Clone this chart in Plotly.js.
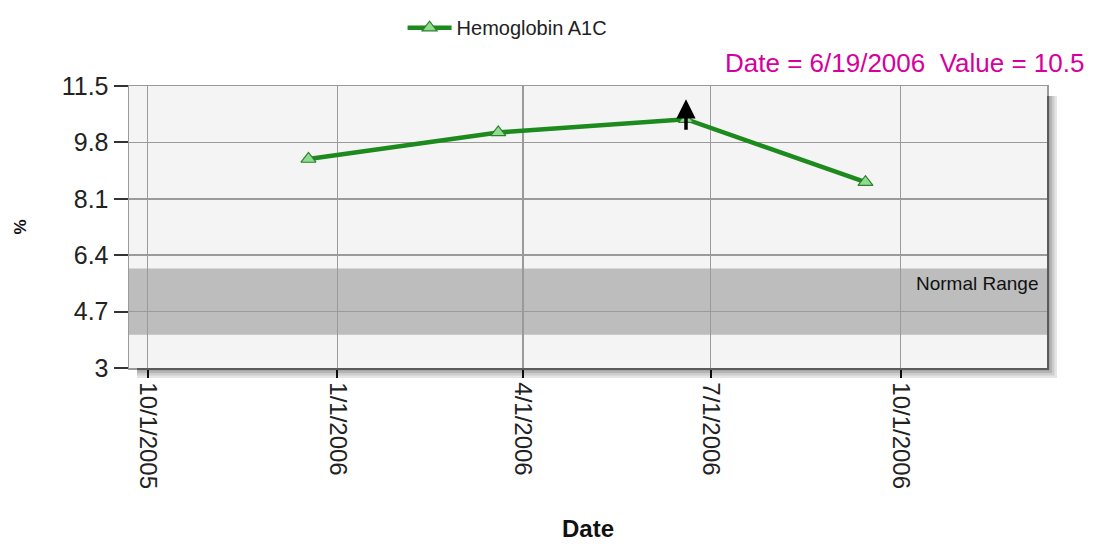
<!DOCTYPE html>
<html>
<head>
<meta charset="utf-8">
<script src="https://cdn.plot.ly/plotly-3.0.1.min.js"></script>
<style>html,body{margin:0;padding:0;background:#fff;}#chart{width:1096px;height:548px;}</style>
</head>
<body>
<div id="chart"></div>
<script>
var dates = ['2005-12-18', '2006-03-20', '2006-06-19', '2006-09-14'];
var values = [9.3, 10.1, 10.5, 8.6];
var seriesName = 'Hemoglobin A1C';
var yTicks = [3, 4.7, 6.4, 8.1, 9.8, 11.5];
var xTickVals = ['2005-10-01', '2006-01-01', '2006-04-01', '2006-07-01', '2006-10-01'];
var xTickText = ['10/1/2005', '1/1/2006', '4/1/2006', '7/1/2006', '10/1/2006'];
var normalLow = 4.0, normalHigh = 6.0;
var selDate = '2006-06-19', selDateText = '6/19/2006', selValue = 10.5;

var FONT = 'Liberation Sans, Arial, sans-serif';

var trace = {
  x: dates, y: values, name: seriesName, type: 'scatter', mode: 'lines+markers',
  line: {color: '#1d8a1d', width: 4.5},
  marker: {symbol: 'triangle-up', size: 13, color: '#8fdc8f', line: {color: '#2f7f2f', width: 1.2}}
};

var shapes = [
  {type: 'rect', xref: 'paper', yref: 'y', x0: 0, x1: 1, y0: normalLow, y1: normalHigh, fillcolor: '#bdbdbd', line: {width: 0}, layer: 'below'}
];
var shadeCols = ['rgba(0,0,0,0.10)', 'rgba(0,0,0,0.10)', 'rgba(0,0,0,0.12)', 'rgba(0,0,0,0.15)'];
for (var i = 0; i < 4; i++) {
  var px = 10 - i * 2.5;
  shapes.push({type: 'rect', xref: 'paper', yref: 'paper', x0: 1, x1: 1 + px / 918, y0: -px / 282, y1: 1 - 10 / 282, fillcolor: shadeCols[i], line: {width: 0}});
  shapes.push({type: 'rect', xref: 'paper', yref: 'paper', x0: 8 / 918, x1: 1, y0: -px / 282, y1: 0, fillcolor: shadeCols[i], line: {width: 0}});
}

var layout = {
  width: 1096, height: 548,
  margin: {l: 129, r: 49, t: 86, b: 180, pad: 0, autoexpand: false},
  paper_bgcolor: '#ffffff', plot_bgcolor: '#f4f4f4',
  font: {family: FONT, color: '#222'},
  showlegend: true,
  legend: {orientation: 'h', x: 0.298, xanchor: 'left', y: 1.276, yanchor: 'top', font: {size: 20, color: '#222'}, itemwidth: 44, bgcolor: 'rgba(0,0,0,0)'},
  xaxis: {
    type: 'date', range: ['2005-09-22', '2006-12-11'], automargin: false,
    tickmode: 'array', tickvals: xTickVals, ticktext: xTickText, tickangle: 90,
    tickfont: {size: 24, color: '#222', family: FONT},
    ticks: 'outside', ticklen: 8, tickcolor: '#111', tickwidth: 2,
    showgrid: true, gridcolor: '#9a9a9a', gridwidth: 1.5,
    showline: true, linecolor: '#9a9a9a', linewidth: 1.5, mirror: true,
    zeroline: false,
    title: {text: 'Date', font: {size: 24, color: '#111', family: FONT, weight: 'bold'}, standoff: 32}
  },
  yaxis: {
    range: [3, 11.5], tickmode: 'array', tickvals: yTicks, ticktext: yTicks.map(function (v) { return String(v); }),
    automargin: false,
    tickfont: {size: 25, color: '#222', family: FONT},
    ticks: 'outside', ticklen: 14, tickcolor: '#333', tickwidth: 2,
    showgrid: true, gridcolor: '#9a9a9a', gridwidth: 1.5,
    showline: true, linecolor: '#9a9a9a', linewidth: 1.5, mirror: true,
    zeroline: false,
    title: {text: '%', font: {size: 17, color: '#111', family: FONT, weight: 'bold'}, standoff: 30}
  },
  shapes: shapes,
  annotations: [
    {xref: 'paper', yref: 'paper', x: (1086 - 129) / 918, xanchor: 'right', y: 1 + (86 - 63) / 282, yanchor: 'middle',
     text: 'Date = ' + selDateText + '  Value = ' + selValue, showarrow: false,
     font: {size: 26, color: '#d6009c', family: FONT}},
    {xref: 'x', yref: 'y', x: selDate, y: 11.1, text: '', showarrow: true, arrowhead: 2, arrowsize: 1.1, arrowwidth: 3.5,
     arrowcolor: '#000', ax: 0, ay: 32},
    {xref: 'paper', yref: 'y', x: 1, xanchor: 'right', xshift: -6, y: 5.55, yanchor: 'middle', text: 'Normal Range',
     showarrow: false, font: {size: 19, color: '#111', family: FONT}}
  ]
};

Plotly.newPlot('chart', [trace], layout, {displayModeBar: false, staticPlot: true});
</script>
</body>
</html>
